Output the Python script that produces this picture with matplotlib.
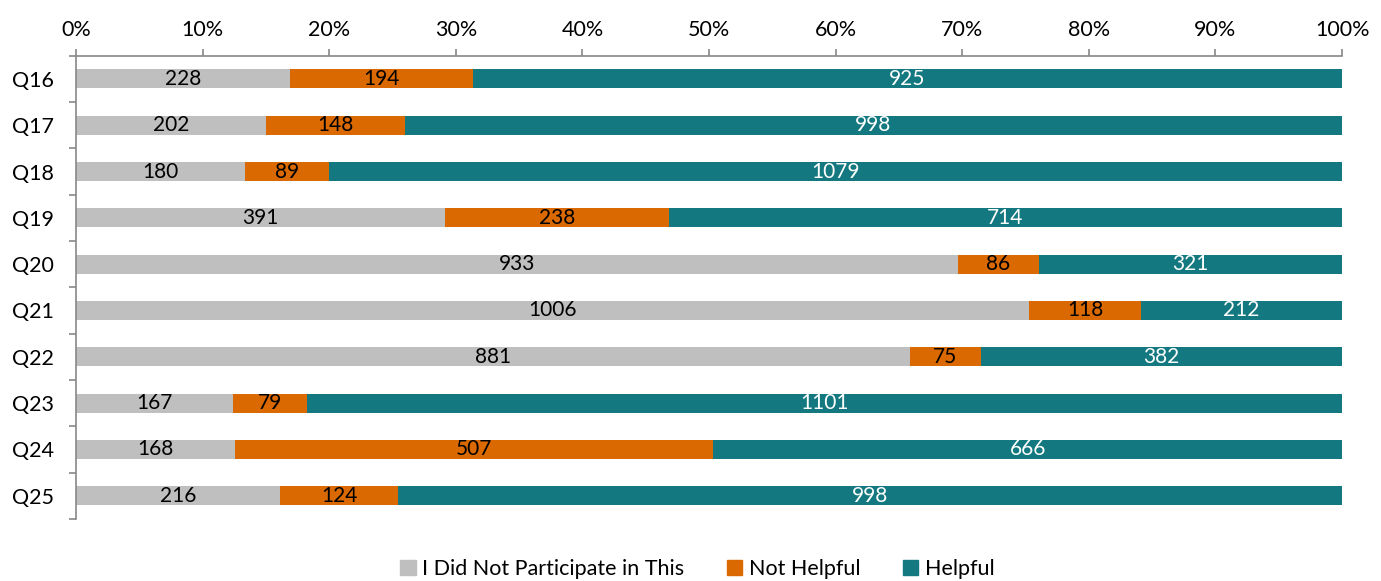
import numpy as np
import matplotlib
matplotlib.use("Agg")
import matplotlib.pyplot as plt
from matplotlib.patches import Patch

plt.rcParams['font.family'] = ['Lato', 'DejaVu Sans']

# data
questions = ['Q16', 'Q17', 'Q18', 'Q19', 'Q20', 'Q21', 'Q22', 'Q23', 'Q24', 'Q25']
not_participated = [228, 202, 180, 391, 933, 1006, 881, 167, 168, 216]
not_helpful = [194, 148, 89, 238, 86, 118, 75, 79, 507, 124]
helpful = [925, 998, 1079, 714, 321, 212, 382, 1101, 666, 998]

series_names = ['I Did Not Participate in This', 'Not Helpful', 'Helpful']
colors = ['#BFBFBF', '#D96900', '#13787F']
text_colors = ['black', 'black', 'white']

counts = np.array([not_participated, not_helpful, helpful], dtype=float)
totals = counts.sum(axis=0)
shares = counts / totals * 100

fig = plt.figure(figsize=(13.81, 5.81), dpi=100)
ax = fig.add_axes([0.055, 0.107, 0.9168, 0.797])

y = np.arange(len(questions))
left = np.zeros(len(questions))
for i in range(3):
    ax.barh(y, shares[i], left=left, height=0.41, color=colors[i], label=series_names[i])
    for j in range(len(questions)):
        ax.text(left[j] + shares[i][j] / 2, y[j], str(int(counts[i][j])),
                ha='center', va='center', fontsize=15, color=text_colors[i])
    left = left + shares[i]

ax.set_xlim(0, 100)
ax.set_ylim(len(questions) - 0.5, -0.5)
ax.set_xticks(np.arange(0, 101, 10))
ax.set_xticklabels([f'{v}%' for v in range(0, 101, 10)])
ax.xaxis.tick_top()
ax.set_yticks(y)
ax.set_yticklabels(questions)
ax.set_yticks(np.arange(-0.5, len(questions), 1), minor=True)
ax.tick_params(axis='y', which='major', length=0, pad=16, labelsize=15.5)
ax.tick_params(axis='y', which='minor', length=5, color='#888888', width=1.2)
ax.tick_params(axis='x', which='major', length=5, color='#888888', width=1.2, labelsize=15.5, pad=6)

for s in ['right', 'bottom']:
    ax.spines[s].set_visible(False)
for s in ['left', 'top']:
    ax.spines[s].set_color('#888888')
    ax.spines[s].set_linewidth(1.2)

handles = [Patch(color=c, label=n) for c, n in zip(colors, series_names)]
fig.legend(handles=handles, loc='center', bbox_to_anchor=(0.505, 0.02), ncol=3,
           frameon=False, fontsize=15.5, handlelength=0.7, handleheight=0.7,
           handletextpad=0.3, columnspacing=2.0)

fig.savefig('out.png', dpi=100)
